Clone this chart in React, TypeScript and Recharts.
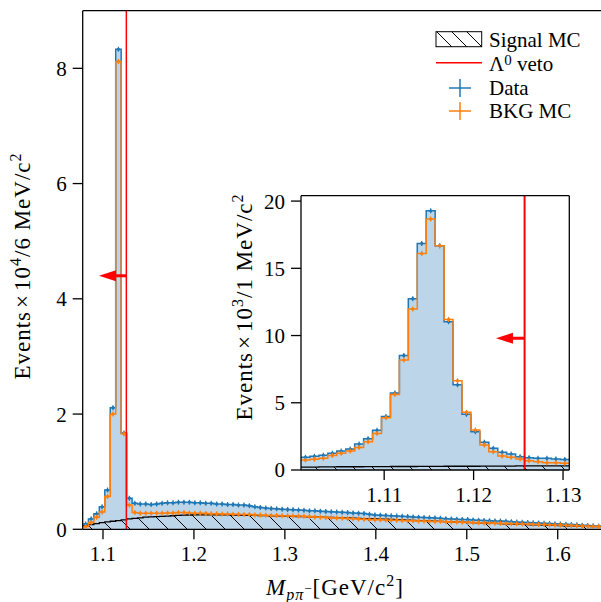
import { ComposedChart, Area, Line, Scatter, XAxis, YAxis, ReferenceLine, ReferenceDot } from "recharts";

// main histogram: 6 MeV bins starting at the p pi threshold, values in 10^4 events
const MAIN_START = 1.078;
const MAIN_BIN = 0.006;
const mainData = [
  0.09, 0.18, 0.27, 0.39, 0.68, 2.11, 8.33, 1.67, 0.54, 0.45,
  0.44, 0.44, 0.43, 0.44, 0.45, 0.46, 0.46, 0.47, 0.47, 0.47,
  0.46, 0.46, 0.45, 0.45, 0.44, 0.44, 0.43, 0.43, 0.42, 0.42,
  0.41, 0.39, 0.38, 0.37, 0.36, 0.355, 0.35, 0.345, 0.34, 0.335,
  0.33, 0.32, 0.32, 0.315, 0.31, 0.305, 0.3, 0.295, 0.29, 0.285,
  0.28, 0.275, 0.26, 0.25, 0.245, 0.24, 0.235, 0.23, 0.225, 0.22,
  0.215, 0.21, 0.205, 0.2, 0.197, 0.19, 0.185, 0.18, 0.176, 0.172,
  0.168, 0.163, 0.158, 0.153, 0.15, 0.146, 0.142, 0.138, 0.132, 0.127,
  0.122, 0.118, 0.114, 0.11, 0.105, 0.1, 0.096, 0.092, 0.087, 0.082,
  0.077, 0.072, 0.067, 0.062, 0.057,
];
const mainBkg = [
  0.05, 0.12, 0.21, 0.3, 0.57, 2.0, 8.12, 1.66, 0.42, 0.29,
  0.28, 0.28, 0.28, 0.28, 0.28, 0.285, 0.285, 0.29, 0.29, 0.285,
  0.28, 0.28, 0.275, 0.27, 0.27, 0.265, 0.265, 0.26, 0.26, 0.255,
  0.255, 0.25, 0.25, 0.245, 0.24, 0.24, 0.235, 0.235, 0.23, 0.23,
  0.225, 0.22, 0.215, 0.21, 0.205, 0.2, 0.197, 0.193, 0.188, 0.183,
  0.178, 0.173, 0.17, 0.167, 0.164, 0.161, 0.158, 0.156, 0.153, 0.15,
  0.147, 0.145, 0.142, 0.139, 0.137, 0.134, 0.131, 0.128, 0.125, 0.122,
  0.12, 0.117, 0.114, 0.111, 0.108, 0.105, 0.103, 0.1, 0.097, 0.095,
  0.092, 0.09, 0.087, 0.085, 0.082, 0.079, 0.076, 0.073, 0.07, 0.067,
  0.063, 0.059, 0.055, 0.051, 0.047,
];
const mainSignal = [
  0.06, 0.08, 0.1, 0.115, 0.13, 0.14, 0.15, 0.165, 0.18, 0.19,
  0.2, 0.21, 0.215, 0.22, 0.225, 0.23, 0.235, 0.24, 0.245, 0.248,
  0.25, 0.25, 0.252, 0.252, 0.252, 0.25, 0.25, 0.248, 0.246, 0.244,
  0.242, 0.24, 0.238, 0.236, 0.234, 0.232, 0.23, 0.228, 0.225, 0.222,
  0.22, 0.217, 0.214, 0.211, 0.208, 0.205, 0.202, 0.199, 0.196, 0.193,
  0.19, 0.187, 0.184, 0.18, 0.177, 0.174, 0.17, 0.167, 0.163, 0.16,
  0.156, 0.152, 0.149, 0.145, 0.141, 0.138, 0.134, 0.13, 0.127, 0.123,
  0.12, 0.116, 0.112, 0.109, 0.105, 0.102, 0.098, 0.095, 0.092, 0.088,
  0.085, 0.082, 0.079, 0.076, 0.073, 0.07, 0.067, 0.064, 0.061, 0.058,
  0.055, 0.052, 0.05, 0.047, 0.045,
];
const MAIN_X_TICKS = [1.1, 1.2, 1.3, 1.4, 1.5, 1.6];
const MAIN_Y_TICKS = [0, 2, 4, 6, 8];

// inset: 1 MeV bins around the Lambda mass, values in 10^3 events
const INSET_START = 1.1007;
const INSET_BIN = 0.001;
const insetData = [
  0.94, 1.02, 1.09, 1.24, 1.41, 1.56, 1.93, 2.33, 2.95, 3.97,
  5.72, 8.52, 12.74, 16.85, 19.28, 16.68, 11.03, 6.34, 4.14, 2.85,
  2.06, 1.61, 1.32, 1.19, 0.99, 0.92, 0.87, 0.87, 0.82, 0.79,
];
const insetBkg = [
  0.74, 0.8, 0.87, 1.07, 1.24, 1.41, 1.68, 2.1, 2.72, 3.89,
  5.62, 8.18, 11.97, 16.1, 18.66, 16.68, 11.2, 6.64, 4.29, 2.97,
  1.86, 1.36, 1.04, 0.94, 0.82, 0.69, 0.62, 0.54, 0.54, 0.5,
];
const insetSignal = [
  0.22, 0.22, 0.23, 0.23, 0.24, 0.24, 0.24, 0.25, 0.25, 0.25,
  0.26, 0.26, 0.26, 0.27, 0.27, 0.27, 0.28, 0.28, 0.28, 0.28,
  0.29, 0.29, 0.29, 0.29, 0.3, 0.3, 0.3, 0.3, 0.31, 0.31,
];
const INSET_X_TICKS = [1.11, 1.12, 1.13];
const INSET_Y_TICKS = [0, 5, 10, 15, 20];

const VETO = 1.1257;

const BLUE = "#1f77b4";
const ORANGE = "#ff7f0e";
const FILL = "#bcd5e9";
const FONT = "'Liberation Serif', serif";

const steps = (start: number, w: number, vals: number[]) => [
  ...vals.map((v, i) => ({ x: start + i * w, y: v })),
  { x: start + vals.length * w, y: vals[vals.length - 1] },
];
const centers = (start: number, w: number, vals: number[]) =>
  vals.map((v, i) => ({ x: start + (i + 0.5) * w, y: v }));

const marker = (color: string) => (props: any) => {
  const { cx, cy } = props;
  return (
    <g>
      <line x1={cx} x2={cx} y1={cy - 2.5} y2={cy + 2.5} stroke={color} strokeWidth={1.2} />
      <circle cx={cx} cy={cy} r={1.6} fill={color} />
    </g>
  );
};

const arrowHead = (props: any) => {
  const { cx, cy } = props;
  return <polygon points={`${cx},${cy} ${cx + 17},${cy - 5.5} ${cx + 17},${cy + 5.5}`} fill="#ff0000" />;
};

const tickStyle = { fontFamily: FONT, fontSize: 21, fill: "#000" };

const Hatch = ({ id, size }: { id: string; size: number }) => (
  <defs>
    <pattern id={id} patternUnits="userSpaceOnUse" width={size} height={size}>
      <path d={`M0,0 L${size},${size} M${-2},${size - 2} L2,${size + 2} M${size - 2},-2 L${size + 2},2`} stroke="#000" strokeWidth={1} />
    </pattern>
  </defs>
);

function MainChart() {
  return (
    <ComposedChart width={601} height={602} margin={{ top: 10.7, right: 0, bottom: 0, left: 0 }}>
      <Hatch id="hatchMain" size={19} />
      <XAxis dataKey="x" type="number" domain={[1.0777, 1.6476]} allowDataOverflow ticks={MAIN_X_TICKS}
        height={72.7} tickSize={10} tickMargin={7} tick={tickStyle} stroke="#000" strokeWidth={1.3} tickFormatter={(v) => v.toFixed(1)} />
      <YAxis dataKey="y" type="number" domain={[0, 9]} allowDataOverflow ticks={MAIN_Y_TICKS}
        width={82.7} tickSize={10} tickMargin={6} tick={tickStyle} stroke="#000" strokeWidth={1.3} />
      <Area data={steps(MAIN_START, MAIN_BIN, mainData)} dataKey="y" type="stepAfter" fill={FILL} fillOpacity={1} stroke="none" isAnimationActive={false} />
      <Area data={steps(MAIN_START, MAIN_BIN, mainSignal)} dataKey="y" type="stepAfter" fill="url(#hatchMain)" fillOpacity={1} stroke="#000" strokeWidth={1.3} isAnimationActive={false} />
      <Line data={steps(MAIN_START, MAIN_BIN, mainData)} dataKey="y" type="stepAfter" stroke={BLUE} strokeWidth={1.5} dot={false} activeDot={false} isAnimationActive={false} />
      <Line data={steps(MAIN_START, MAIN_BIN, mainBkg)} dataKey="y" type="stepAfter" stroke={ORANGE} strokeWidth={1.5} dot={false} activeDot={false} isAnimationActive={false} />
      <Scatter data={centers(MAIN_START, MAIN_BIN, mainData)} dataKey="y" shape={marker(BLUE)} isAnimationActive={false} />
      <Scatter data={centers(MAIN_START, MAIN_BIN, mainBkg)} dataKey="y" shape={marker(ORANGE)} isAnimationActive={false} />
      <ReferenceLine x={VETO} stroke="#ff0000" strokeWidth={1.5} />
      <ReferenceLine y={9} stroke="#000" strokeWidth={1.3} />
      <ReferenceLine segment={[{ x: 1.114, y: 4.4 }, { x: VETO, y: 4.4 }]} stroke="#ff0000" strokeWidth={3} />
      <ReferenceDot x={1.0956} y={4.4} shape={arrowHead} />
    </ComposedChart>
  );
}

function InsetChart() {
  return (
    <ComposedChart width={601} height={602} margin={{ top: 195.7, right: 31.7, bottom: 0, left: 0 }}>
      <Hatch id="hatchInset" size={19} />
      <XAxis dataKey="x" type="number" domain={[INSET_START, INSET_START + 30 * INSET_BIN]} allowDataOverflow ticks={INSET_X_TICKS}
        height={132} tickSize={10} tickMargin={7} tick={tickStyle} stroke="#000" strokeWidth={1.3} tickFormatter={(v) => v.toFixed(2)} />
      <YAxis dataKey="y" type="number" domain={[0, 20.4]} allowDataOverflow ticks={INSET_Y_TICKS}
        width={301} tickSize={10} tickMargin={6} tick={tickStyle} stroke="#000" strokeWidth={1.3} />
      <Area data={steps(INSET_START, INSET_BIN, insetData)} dataKey="y" type="stepAfter" fill={FILL} fillOpacity={1} stroke="none" isAnimationActive={false} />
      <Area data={steps(INSET_START, INSET_BIN, insetSignal)} dataKey="y" type="stepAfter" fill="url(#hatchInset)" fillOpacity={1} stroke="#000" strokeWidth={1.3} isAnimationActive={false} />
      <Line data={steps(INSET_START, INSET_BIN, insetData)} dataKey="y" type="stepAfter" stroke={BLUE} strokeWidth={1.5} dot={false} activeDot={false} isAnimationActive={false} />
      <Line data={steps(INSET_START, INSET_BIN, insetBkg)} dataKey="y" type="stepAfter" stroke={ORANGE} strokeWidth={1.5} dot={false} activeDot={false} isAnimationActive={false} />
      <Scatter data={centers(INSET_START, INSET_BIN, insetData)} dataKey="y" shape={marker(BLUE)} isAnimationActive={false} />
      <Scatter data={centers(INSET_START, INSET_BIN, insetBkg)} dataKey="y" shape={marker(ORANGE)} isAnimationActive={false} />
      <ReferenceLine x={VETO} stroke="#ff0000" strokeWidth={2} />
      <ReferenceLine y={20.4} stroke="#000" strokeWidth={1.3} />
      <ReferenceLine x={INSET_START + 30 * INSET_BIN} stroke="#000" strokeWidth={1.3} />
      <ReferenceLine segment={[{ x: 1.1243, y: 9.8 }, { x: VETO, y: 9.8 }]} stroke="#ff0000" strokeWidth={3} />
      <ReferenceDot x={1.1225} y={9.8} shape={arrowHead} />
    </ComposedChart>
  );
}

function Overlay() {
  const sup = { fontSize: 15 };
  const sup2 = { fontSize: 16 };
  return (
    <svg width={601} height={602} style={{ position: "absolute", left: 0, top: 0 }} fontFamily={FONT} fontSize={21}>
      <defs>
        <pattern id="hatchLegend" patternUnits="userSpaceOnUse" width={15} height={15}>
          <path d="M0,0 L15,15 M-2,13 L2,17 M13,-2 L17,2" stroke="#000" strokeWidth={1} />
        </pattern>
      </defs>
      <rect x={436} y={31.7} width={45.7} height={15} fill="url(#hatchLegend)" stroke="#000" strokeWidth={1} />
      <text x={489} y={46.5}>Signal MC</text>
      <line x1={436} x2={482} y1={62.7} y2={62.7} stroke="#ff0000" strokeWidth={1.5} />
      <text x={489} y={70.5}>Λ<tspan dy={-6} style={sup}>0</tspan><tspan dy={6}> veto</tspan></text>
      <line x1={449} x2={471} y1={88} y2={88} stroke={BLUE} strokeWidth={1.5} />
      <line x1={460} x2={460} y1={79} y2={97} stroke={BLUE} strokeWidth={1.5} />
      <text x={489} y={94.5}>Data</text>
      <line x1={449} x2={471} y1={111} y2={111} stroke={ORANGE} strokeWidth={1.5} />
      <line x1={460} x2={460} y1={102} y2={120} stroke={ORANGE} strokeWidth={1.5} />
      <text x={489} y={118}>BKG MC</text>

      <g fontSize={23} letterSpacing={1}>
        <text x={0} y={0} textAnchor="middle" transform="translate(30,266) rotate(-90)">
          Events<tspan dx={3}>×</tspan><tspan dx={3}>10</tspan><tspan dy={-9} style={sup2}>4</tspan><tspan dy={9}>/6 MeV/c</tspan><tspan dy={-9} style={sup2}>2</tspan>
        </text>
        <text x={0} y={0} textAnchor="middle" transform="translate(252,307) rotate(-90)">
          Events<tspan dx={3}>×</tspan><tspan dx={3}>10</tspan><tspan dy={-9} style={sup2}>3</tspan><tspan dy={9}>/1 MeV/c</tspan><tspan dy={-9} style={sup2}>2</tspan>
        </text>
        <text x={266} y={595}>
          <tspan fontStyle="italic">M</tspan>
          <tspan dy={5} fontSize={16} fontStyle="italic">pπ</tspan>
          <tspan dy={-7} fontSize={13}>−</tspan>
          <tspan dy={2}>[GeV/c</tspan>
          <tspan dy={-9} style={sup2}>2</tspan>
          <tspan dy={9}>]</tspan>
        </text>
      </g>
    </svg>
  );
}

export default function App() {
  return (
    <div style={{ position: "absolute", left: 0, top: 0, width: 601, height: 602, overflow: "hidden", background: "#fff" }}>
      <div style={{ position: "absolute", left: 0, top: 0 }}>
        <MainChart />
      </div>
      <div style={{ position: "absolute", left: 301, top: 195.7, width: 268.3, height: 274.3, background: "#fff" }} />
      <div style={{ position: "absolute", left: 0, top: 0 }}>
        <InsetChart />
      </div>
      <Overlay />
    </div>
  );
}
